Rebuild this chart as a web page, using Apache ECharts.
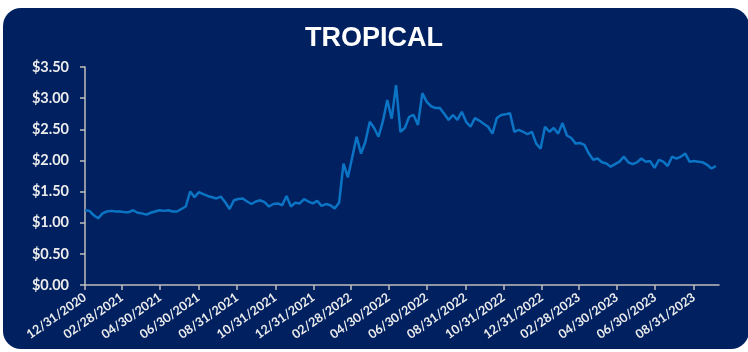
<!DOCTYPE html>
<html>
<head>
<meta charset="utf-8">
<script src="https://cdn.jsdelivr.net/npm/echarts@6/dist/echarts.min.js"></script>
<style>
html,body{margin:0;padding:0;background:#fff;}
#c{width:748px;height:352px;}
</style>
</head>
<body>
<div id="c"></div>
<script>
// Weekly observations starting 12/31/2020
const startDate = '2020-12-31';
const prices = [
1.20,1.19,1.12,1.07,1.15,1.18,1.19,1.18,1.18,1.17,
1.17,1.20,1.16,1.15,1.13,1.16,1.18,1.20,1.19,1.20,
1.18,1.18,1.22,1.26,1.50,1.41,1.49,1.46,1.43,1.41,
1.39,1.42,1.33,1.22,1.36,1.38,1.39,1.34,1.30,1.34,
1.36,1.33,1.26,1.30,1.31,1.28,1.43,1.26,1.32,1.31,
1.38,1.34,1.31,1.35,1.27,1.30,1.28,1.23,1.32,1.95,
1.73,2.05,2.38,2.11,2.30,2.62,2.52,2.38,2.63,2.97,
2.67,3.21,2.46,2.52,2.70,2.73,2.57,3.08,2.94,2.87,
2.84,2.84,2.75,2.65,2.73,2.65,2.78,2.62,2.54,2.68,
2.64,2.59,2.54,2.43,2.68,2.73,2.74,2.76,2.46,2.49,
2.46,2.42,2.46,2.27,2.19,2.54,2.46,2.52,2.43,2.60,
2.40,2.36,2.27,2.28,2.25,2.11,2.01,2.03,1.97,1.95,
1.90,1.94,1.98,2.06,1.97,1.94,1.97,2.03,1.98,1.99,
1.88,2.01,1.98,1.91,2.06,2.03,2.06,2.11,1.98,1.99,
1.98,1.97,1.93,1.87,1.91
];
const tickDates = ['2020-12-31','2021-02-28','2021-04-30','2021-06-30','2021-08-31','2021-10-31','2021-12-31','2022-02-28','2022-04-30','2022-06-30','2022-08-31','2022-10-31','2022-12-31','2023-02-28','2023-04-30','2023-06-30','2023-08-31'];
const axisEnd = '2023-10-10';
const yTicks = [0,0.5,1,1.5,2,2.5,3,3.5];
const titleText = 'TROPICAL';

function ts(s){const p=s.split('-');return Date.UTC(+p[0],+p[1]-1,+p[2]);}
const DAY = 86400000;
const t0 = ts(startDate);
const seriesData = prices.map((v,i)=>[t0 + i*7*DAY, v]);
function fmt(t){const d=new Date(t);const m=String(d.getUTCMonth()+1).padStart(2,'0');const dd=String(d.getUTCDate()).padStart(2,'0');return m+'/'+dd+'/'+d.getUTCFullYear();}

const chart = echarts.init(document.getElementById('c'), null, {renderer:'canvas'});
const labelColor = '#ECECEC';
chart.setOption({
  backgroundColor:'#ffffff',
  animation:false,
  graphic:[{type:'rect',z:-10,silent:true,shape:{x:3,y:8,width:746,height:341,r:18},style:{fill:'#002060'}}],
  title:{text:titleText,left:'center',top:20,textStyle:{color:'#ffffff',fontFamily:'Liberation Sans, Arial, sans-serif',fontWeight:'bold',fontSize:27}},
  grid:{left:85,right:29,top:67,bottom:67,containLabel:false},
  xAxis:{
    type:'value',
    min:ts(startDate),max:ts(axisEnd),
    splitLine:{show:false},
    axisLine:{show:true,lineStyle:{color:'#BFBFBF',width:1.5}},
    axisTick:{show:true,customValues:tickDates.map(ts),length:5,lineStyle:{color:'#BFBFBF',width:1.5}},
    axisLabel:{customValues:tickDates.map(ts),rotate:35,margin:11,color:labelColor,fontFamily:'Lato, Open Sans, sans-serif',fontWeight:'bold',fontSize:12.5,formatter:fmt}
  },
  yAxis:{
    type:'value',min:0,max:3.5,interval:0.5,
    splitLine:{show:false},
    axisLine:{show:true,lineStyle:{color:'#BFBFBF',width:1.5}},
    axisTick:{show:true,length:5,lineStyle:{color:'#BFBFBF',width:1.5}},
    axisLabel:{margin:16,color:labelColor,fontFamily:'Lato, Open Sans, sans-serif',fontWeight:'bold',fontSize:14.5,formatter:v=>'$'+v.toFixed(2)}
  },
  series:[{type:'line',data:seriesData,showSymbol:false,smooth:false,lineStyle:{color:'#0B74C4',width:2.5},itemStyle:{color:'#0B74C4'}}]
});
</script>
</body>
</html>
